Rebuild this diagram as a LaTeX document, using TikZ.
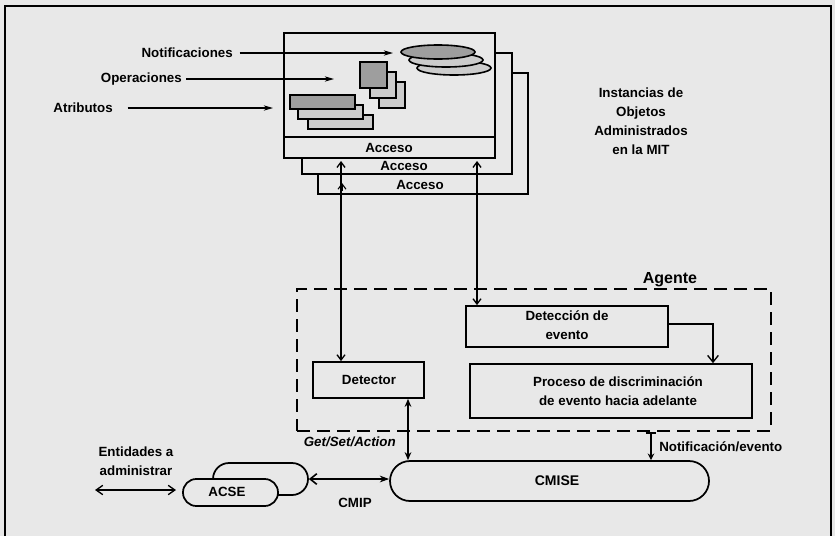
\documentclass[tikz,border=0pt]{standalone}
\usepackage{fontspec}
\setmainfont{Liberation Sans}
\usetikzlibrary{arrows.meta,fit,shapes.geometric}
\definecolor{bg}{gray}{0.91}
\definecolor{shade}{gray}{0.62}
\definecolor{shadel}{gray}{0.80}
\begin{document}
\begin{tikzpicture}[x=0.75pt,y=-0.75pt,
  txt/.style={font=\fontsize{10}{14.5}\selectfont\bfseries, inner sep=0pt, align=center},
  box/.style={draw, line width=1.3pt, fill=bg, inner sep=0pt},
  pill/.style={draw, line width=1.3pt, fill=bg, inner sep=0pt},
  conn/.style={line width=1pt},
  tarr/.style={line width=1pt, -{Stealth[length=7pt,width=4pt]}},
  barb/.style={line width=1pt, {Straight Barb[length=4pt,width=6pt]}-{Straight Barb[length=4pt,width=6pt]}},
  oval/.style={ellipse, draw, line width=1.2pt, inner sep=0pt, minimum width=55.5pt, minimum height=10.5pt},
  sq/.style={draw, line width=1.2pt, inner sep=0pt},
]
\useasboundingbox (0,0) rectangle (835,536);
\fill[bg] (0,0) rectangle (835,536);
% outer frame
\draw[line width=1pt] (5,536) -- (5,6) -- (831,6) -- (831,536);

% MIT stacked boxes
\node[box, fit={(318,73)(528,194)}] (mit3) {};
\node[box, fit={(302,53)(512,174)}] (mit2) {};
\node[box, fit={(284,33)(495,158)}] (mit1) {};
\coordinate (dv) at (0,137);
\draw[line width=1.3pt] (mit1.west |- dv) -- (mit1.east |- dv);
\node[txt] (acc1) at (389,148) {Acceso};
\node[txt] (acc2) at (404,166) {Acceso};
\node[txt] (acc3) at (420,185) {Acceso};

% notifications (ellipses)
\node[oval, fill=shadel] (e3) at (454,68) {};
\node[oval, fill=shadel] (e2) at (446,60) {};
\node[oval, fill=shade] (e1) at (438,52) {};
% operations (squares)
\node[sq, fill=shadel, fit={(379,82)(405,108)}] (s3) {};
\node[sq, fill=shadel, fit={(370,72)(396,98)}] (s2) {};
\node[sq, fill=shade, fit={(360,62)(387,88)}] (s1) {};
% attributes (bars)
\node[sq, fill=shadel, fit={(308,115)(373,129)}] (r3) {};
\node[sq, fill=shadel, fit={(298,105)(363,119)}] (r2) {};
\node[sq, fill=shade, fit={(290,95)(355,109)}] (r1) {};

% left labels and arrows
\node[txt, anchor=east] (notif) at (233,53) {Notificaciones};
\node[txt, anchor=east] (oper) at (182,79) {Operaciones};
\node[txt, anchor=east] (atrib) at (113,108) {Atributos};
\coordinate (notifE) at (393,53);
\coordinate (operE) at (334,79);
\coordinate (atribE) at (273,108);
\draw[tarr] ([xshift=5pt]notif.east) -- (notifE);
\draw[tarr] ([xshift=3pt]oper.east) -- (operE);
\draw[tarr] ([xshift=11pt]atrib.east) -- (atribE);

% right label
\node[txt, font=\fontsize{10}{14.2}\selectfont\bfseries] (inst) at (641,121) {Instancias de\\Objetos\\Administrados\\en la MIT};

% Agent
\node[draw, line width=1.6pt, dash pattern=on 10pt off 5pt, inner sep=0pt, fit={(297,289)(771,431)}] (agent) {};
\node[txt, font=\fontsize{12}{14}\selectfont\bfseries] (agl) at (670,280) {Agente};
\node[box, fit={(466,306)(668,347)}] (dev) {};
\node[txt] (devt) at (567,325) {Detección de\\evento};
\node[box, fit={(470,364)(752,418)}] (proc) {};
\node[txt] (proct) at (618,391) {Proceso de discriminación\\de evento hacia adelante};
\node[box, fit={(313,362)(424,398)}] (det) {};
\node[txt] (dett) at (369,380) {Detector};

% CMISE and ACSE
\node[pill, rounded corners=15pt, fit={(390,461)(709,501)}] (cmise) {};
\node[txt, font=\fontsize{10.5}{12}\selectfont\bfseries] (cmiset) at (557,481) {CMISE};
\node[pill, rounded corners=12pt, fit={(213,463)(308,495)}] (acseb) {};
\node[pill, rounded corners=10pt, fit={(183,479)(278,506)}] (acsef) {};
\node[txt] (acset) at (227,492) {ACSE};

% connectors from MIT
\coordinate (lt) at (341,161);
\coordinate (rt) at (477,161);
\draw[barb] (lt) -- (lt |- det.north);
\coordinate (lt2a) at (342,191);
\coordinate (lt2b) at (342,183);
\draw[line width=0.8pt, -{Straight Barb[length=4pt,width=6pt]}] (lt2a) -- (lt2b);
\draw[barb] (rt) -- (rt |- dev.north);

% detection -> process
\coordinate (kx) at (713,0);
\draw[line width=1pt, -{Straight Barb[length=5pt,width=8pt]}] (dev.east |- 0,324) -| (proc.north -| kx);

% detector <-> CMISE
\coordinate (gx) at (408,0);
\draw[line width=1.2pt, {Stealth[length=6pt,width=5pt]}-{Stealth[length=6pt,width=5pt]}] (det.south -| gx) -- (cmise.north -| gx);
\node[txt, font=\fontsize{10}{12}\selectfont\bfseries\itshape, anchor=east] (gsa) at (396,442) {Get/Set/Action};

% notification
\coordinate (nx) at (651,0);
\draw[line width=1.4pt, {Bar[width=8pt]}-{Stealth[length=5pt,width=5pt]}] (agent.south -| nx) -- (cmise.north -| nx);
\node[txt, anchor=west] (notev) at (659,447) {Notificación/evento};

% CMIP
\draw[line width=1.2pt, {Straight Barb[length=5pt,width=8pt]}-{Stealth[length=7pt,width=5pt]}] (acseb.east) -- (acseb.east -| cmise.west);
\node[txt] (cmip) at (355,503) {CMIP};

% entities
\node[txt] (ent) at (136,461) {Entidades a\\administrar};
\coordinate (entA) at (95,490);
\coordinate (entB) at (176,490);
\draw[line width=1pt, {Straight Barb[length=5pt,width=7pt]}-{Straight Barb[length=5pt,width=7pt]}] (entA) -- (entB);
\end{tikzpicture}
\end{document}
